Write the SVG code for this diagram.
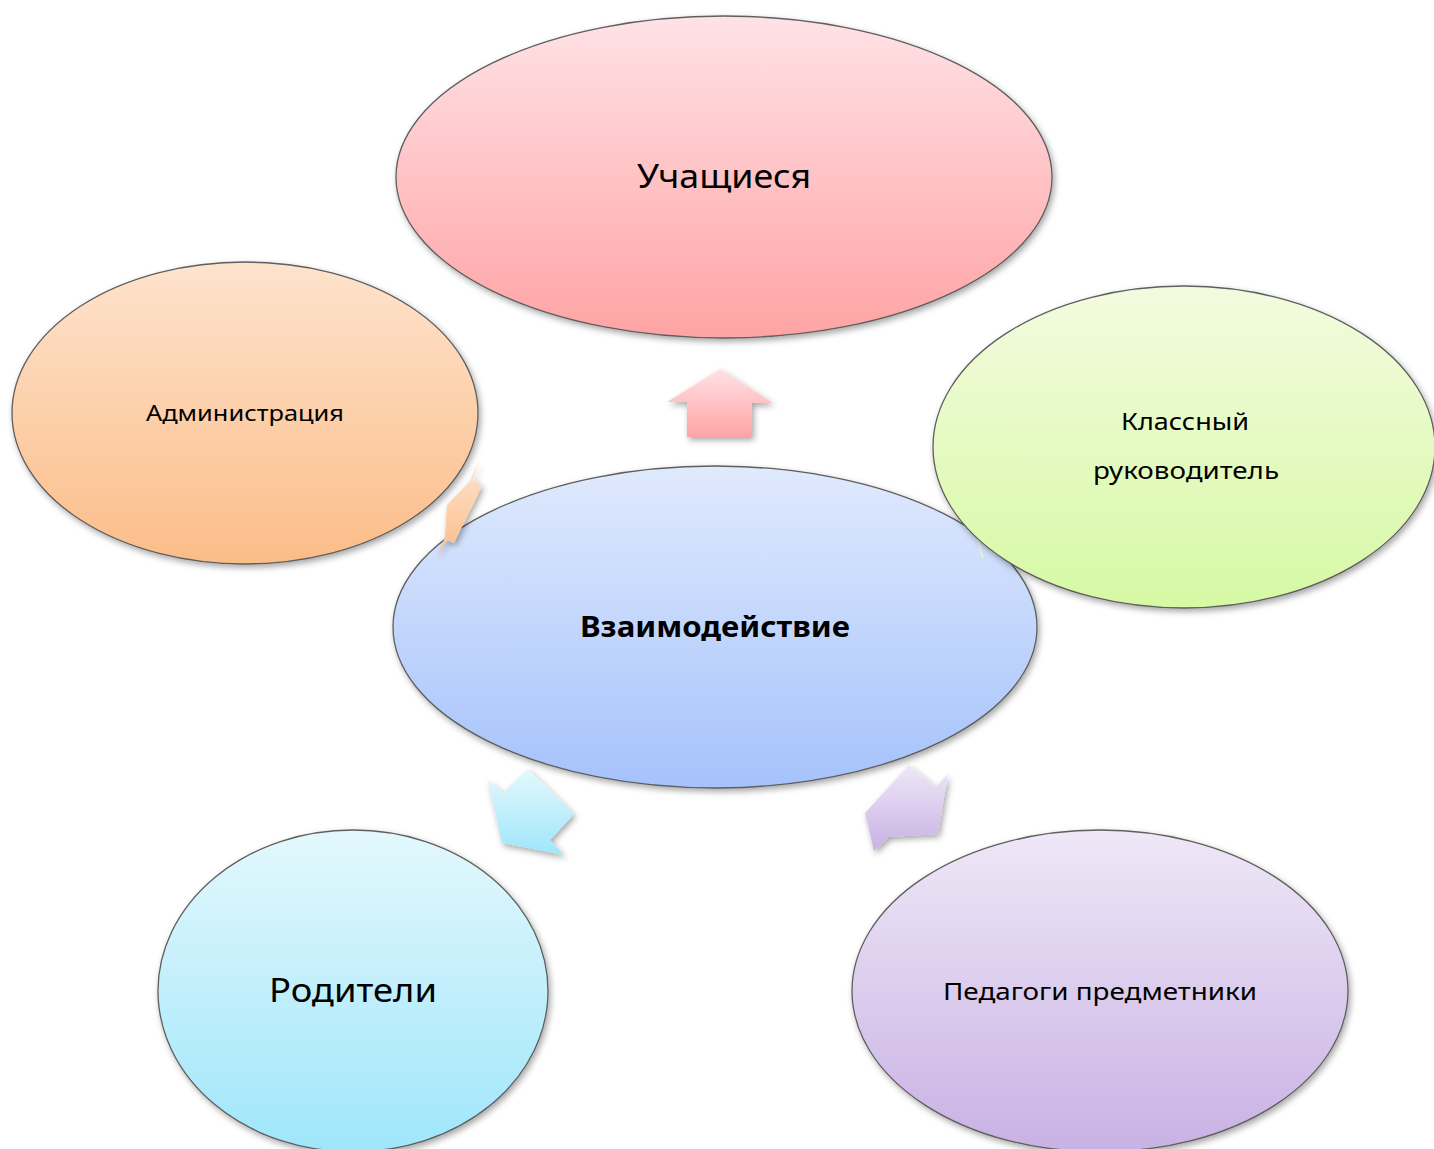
<svg xmlns="http://www.w3.org/2000/svg" width="1434" height="1149" viewBox="0 0 1434 1149">
<defs>
<linearGradient id="gPink" x1="0" y1="0" x2="0" y2="1"><stop offset="0" stop-color="#ffe2e6"/><stop offset="1" stop-color="#ffa3a4"/></linearGradient>
<linearGradient id="gOrange" x1="0" y1="0" x2="0" y2="1"><stop offset="0" stop-color="#fee3cd"/><stop offset="1" stop-color="#fbbd88"/></linearGradient>
<linearGradient id="gGreen" x1="0" y1="0" x2="0" y2="1"><stop offset="0" stop-color="#f3fbdf"/><stop offset="1" stop-color="#d6f9a4"/></linearGradient>
<linearGradient id="gBlue" x1="0" y1="0" x2="0" y2="1"><stop offset="0" stop-color="#e0eafd"/><stop offset="1" stop-color="#a5c2fb"/></linearGradient>
<linearGradient id="gCyan" x1="0" y1="0" x2="0" y2="1"><stop offset="0" stop-color="#e3f8fd"/><stop offset="1" stop-color="#9fe6fa"/></linearGradient>
<linearGradient id="gPurple" x1="0" y1="0" x2="0" y2="1"><stop offset="0" stop-color="#efe8f7"/><stop offset="1" stop-color="#c8b1e4"/></linearGradient>
<filter id="sh" x="-10%" y="-10%" width="125%" height="130%"><feDropShadow dx="2" dy="3" stdDeviation="3" flood-color="#000" flood-opacity="0.35"/></filter>
</defs>
<style>
.node{stroke:#5e5e5e;stroke-width:1.3;filter:url(#sh)}
.arr{stroke:none;filter:url(#sh)}
text{font-family:"Noto Sans","Open Sans","DejaVu Sans",sans-serif;fill:#000;text-anchor:middle}
</style>
<rect width="1434" height="1149" fill="#fff"/>
<g id="node-center">
<ellipse class="node" cx="715" cy="627" rx="322" ry="161" fill="url(#gBlue)"/>
<text x="715" y="637" font-size="28" font-weight="bold" textLength="270" lengthAdjust="spacingAndGlyphs">Взаимодействие</text>
</g>
<g id="connectors">
<polygon class="arr" fill="url(#gPink)" points="720,369 773,403 752,403 752,437 687,437 687,402 667,402"/>
<polygon class="arr" fill="url(#gOrange)" points="479,461 473,480 482,486 454,543 447,540 437,557 445,537 447,505 470,481"/>
<polygon class="arr" fill="url(#gCyan)" points="488,780 503,793 528,769 574,814 550,840 564,855 502,843"/>
<polygon class="arr" fill="url(#gPurple)" points="909,765 936,787 948,774 938,834 889,837 874,851 865,813"/>
<line x1="976" y1="533" x2="983" y2="558" stroke="#e8f8d0" stroke-width="1.2"/>
</g>
<g id="node-students">
<ellipse class="node" cx="724" cy="177" rx="328" ry="161" fill="url(#gPink)"/>
<text x="724" y="188" font-size="33" textLength="174" lengthAdjust="spacingAndGlyphs">Учащиеся</text>
</g>
<g id="node-admin">
<ellipse class="node" cx="245" cy="413" rx="233" ry="151" fill="url(#gOrange)"/>
<text x="245" y="421" font-size="22" textLength="198" lengthAdjust="spacingAndGlyphs">Администрация</text>
</g>
<g id="node-classteacher">
<ellipse class="node" cx="1184" cy="447" rx="251" ry="161" fill="url(#gGreen)"/>
<text x="1185" y="430" font-size="23.5" textLength="128" lengthAdjust="spacingAndGlyphs">Классный</text>
<text x="1186" y="479" font-size="23.5" textLength="186" lengthAdjust="spacingAndGlyphs">руководитель</text>
</g>
<g id="node-parents">
<ellipse class="node" cx="353" cy="991" rx="195" ry="161" fill="url(#gCyan)"/>
<text x="353" y="1002" font-size="33" textLength="168" lengthAdjust="spacingAndGlyphs">Родители</text>
</g>
<g id="node-teachers">
<ellipse class="node" cx="1100" cy="991" rx="248" ry="161" fill="url(#gPurple)"/>
<text x="1100" y="1000" font-size="23.5" textLength="314" lengthAdjust="spacingAndGlyphs">Педагоги предметники</text>
</g>
</svg>
